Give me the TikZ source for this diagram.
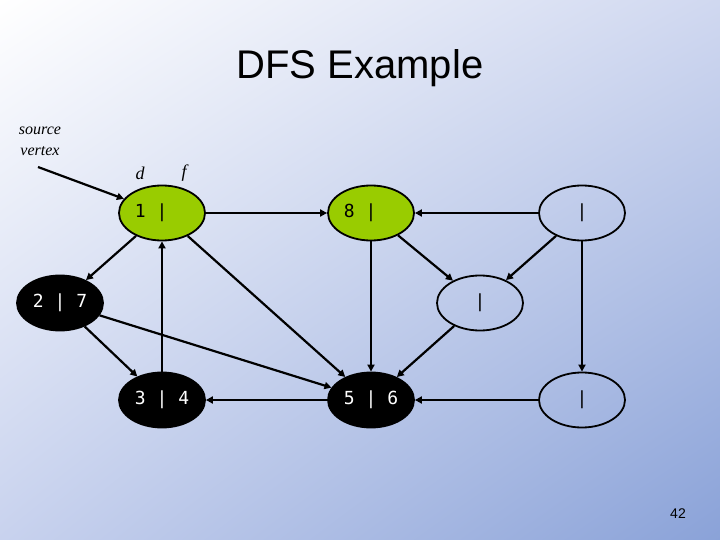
\documentclass[tikz,border=0pt]{standalone}
\usepackage{fontspec}
\setmainfont{Liberation Sans}
\newfontfamily\monof{DejaVu Sans Mono}
\newfontfamily\serifit{Liberation Serif}
\usetikzlibrary{arrows.meta,shadings,shapes.geometric}
\definecolor{nodegreen}{HTML}{99CC00}
\definecolor{bgur}{HTML}{D0D8F0}
\definecolor{bgll}{HTML}{C8D2EE}
\definecolor{bglr}{HTML}{8AA2D8}
\begin{document}
\begin{tikzpicture}[x=1pt,y=-1pt,
  vtx/.style={ellipse,draw=black,line width=1.8pt,minimum width=86pt,minimum height=55pt,inner sep=0pt,font=\monof\fontsize{18}{20}\selectfont},
  grn/.style={vtx,fill=nodegreen},
  blk/.style={vtx,fill=black,text=white},
  wht/.style={vtx},
  edge/.style={line width=2.2pt,-{Triangle[length=7pt,width=7pt]}},
  lab/.style={font=\serifit\itshape\fontsize{18}{20}\selectfont}]
\useasboundingbox (0,0) rectangle (720,540);
\shade[upper left=white,upper right=bgur,lower left=bgll,lower right=bglr] (0,0) rectangle (720,540);
\node (title) at (360,68) {\fontsize{40}{44}\selectfont DFS Example};
\node[lab,align=center,font=\serifit\itshape\fontsize{16}{21}\selectfont] (src) at (40,141) {source\\vertex};
\node[lab] (d) at (140,173) {d};
\node[lab] (f) at (184,173) {f};
\node (num) at (678,514) {\fontsize{14}{16}\selectfont 42};
\coordinate (s0) at (38,167);
\node[grn] (A) at (162,213) {1 | \phantom{7}};
\node[grn] (B) at (371,213) {8 | \phantom{7}};
\node[wht] (C) at (582,213) {|};
\node[blk] (D) at (60,303) {2 | 7};
\node[wht] (E) at (480,303) {|};
\node[blk] (F) at (162,400) {3 | 4};
\node[blk] (G) at (371,400) {5 | 6};
\node[wht] (H) at (582,400) {|};
\draw[edge] (s0) -- (A);
\draw[edge] (A) -- (B);
\draw[edge] (A) -- (D);
\draw[edge] (A) -- (G);
\draw[edge] (F) -- (A);
\draw[edge] (D) -- (F);
\draw[edge] (D) -- (G);
\draw[edge] (G) -- (F);
\draw[edge] (B) -- (G);
\draw[edge] (B) -- (E);
\draw[edge] (C) -- (B);
\draw[edge] (C) -- (E);
\draw[edge] (C) -- (H);
\draw[edge] (E) -- (G);
\draw[edge] (H) -- (G);
\end{tikzpicture}
\end{document}
